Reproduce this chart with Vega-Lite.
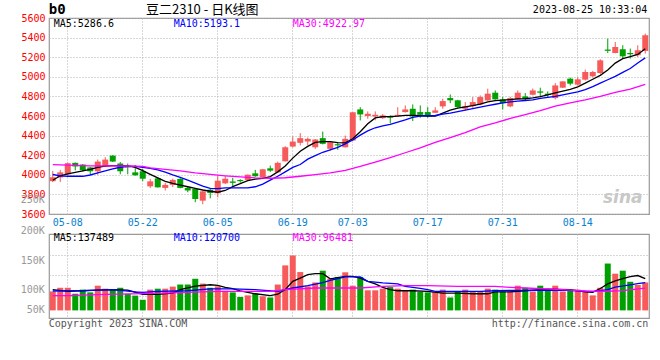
{
  "$schema": "https://vega.github.io/schema/vega-lite/v6.json",
  "autosize": {"type": "pad"},
  "padding": {"left": 20, "top": 2, "right": 0, "bottom": 0},
  "background": "white",
  "bounds": "flush",
  "spacing": 20,
  "config": {
    "view": {"stroke": "#999999", "strokeWidth": 1.2},
    "axis": {"domain": false, "ticks": false, "gridColor": "#b0b0b0", "gridDash": [1, 2], "gridWidth": 1, "labelFont": "DejaVu Sans Mono", "labelFontSize": 10, "labelOverlap": false}
  },
  "datasets": {
    "k": [
      {"d":"05-04","o":3935,"h":4040,"l":3925,"c":3975,"v":82000},
      {"d":"05-05","o":3973,"h":4050,"l":3925,"c":4025,"v":98000},
      {"d":"05-08","o":4005,"h":4125,"l":4000,"c":4118,"v":98000},
      {"d":"05-09","o":4122,"h":4125,"l":4045,"c":4085,"v":72000},
      {"d":"05-10","o":4105,"h":4110,"l":4035,"c":4048,"v":90000},
      {"d":"05-11","o":4075,"h":4080,"l":4000,"c":4036,"v":78000},
      {"d":"05-12","o":4036,"h":4155,"l":4000,"c":4135,"v":107000},
      {"d":"05-15","o":4086,"h":4180,"l":4080,"c":4155,"v":94000},
      {"d":"05-16","o":4196,"h":4200,"l":4130,"c":4135,"v":90000},
      {"d":"05-17","o":4115,"h":4130,"l":4005,"c":4036,"v":98000},
      {"d":"05-18","o":4092,"h":4115,"l":4005,"c":4075,"v":72000},
      {"d":"05-19","o":4025,"h":4100,"l":3990,"c":3995,"v":64000},
      {"d":"05-22","o":4036,"h":4060,"l":3935,"c":3960,"v":46000},
      {"d":"05-23","o":3882,"h":3958,"l":3866,"c":3933,"v":90000},
      {"d":"05-24","o":3964,"h":3970,"l":3870,"c":3872,"v":94000},
      {"d":"05-25","o":3866,"h":3917,"l":3840,"c":3897,"v":94000},
      {"d":"05-26","o":3897,"h":3960,"l":3875,"c":3948,"v":103000},
      {"d":"05-29","o":3958,"h":3965,"l":3862,"c":3866,"v":112000},
      {"d":"05-30","o":3866,"h":3880,"l":3822,"c":3840,"v":112000},
      {"d":"05-31","o":3856,"h":3865,"l":3720,"c":3753,"v":137000},
      {"d":"06-01","o":3736,"h":3835,"l":3700,"c":3831,"v":116000},
      {"d":"06-02","o":3848,"h":3856,"l":3760,"c":3815,"v":98000},
      {"d":"06-05","o":3811,"h":3990,"l":3770,"c":3940,"v":104000},
      {"d":"06-06","o":3913,"h":3988,"l":3905,"c":3960,"v":85000},
      {"d":"06-07","o":3932,"h":3970,"l":3885,"c":3918,"v":78000},
      {"d":"06-08","o":3947,"h":3955,"l":3920,"c":3935,"v":58000},
      {"d":"06-09","o":3948,"h":4003,"l":3945,"c":4001,"v":65000},
      {"d":"06-12","o":4015,"h":4050,"l":3980,"c":3985,"v":72000},
      {"d":"06-13","o":3974,"h":4060,"l":3970,"c":4056,"v":61000},
      {"d":"06-14","o":4066,"h":4094,"l":4030,"c":4042,"v":56000},
      {"d":"06-15","o":4025,"h":4135,"l":4020,"c":4122,"v":112000},
      {"d":"06-16","o":4138,"h":4292,"l":4135,"c":4281,"v":195000},
      {"d":"06-19","o":4288,"h":4391,"l":4280,"c":4339,"v":238000},
      {"d":"06-20","o":4326,"h":4425,"l":4300,"c":4374,"v":166000},
      {"d":"06-21","o":4340,"h":4380,"l":4300,"c":4367,"v":104000},
      {"d":"06-26","o":4281,"h":4365,"l":4265,"c":4360,"v":121000},
      {"d":"06-27","o":4374,"h":4441,"l":4310,"c":4316,"v":172000},
      {"d":"06-28","o":4265,"h":4340,"l":4247,"c":4333,"v":137000},
      {"d":"06-29","o":4312,"h":4333,"l":4255,"c":4300,"v":145000},
      {"d":"06-30","o":4281,"h":4400,"l":4278,"c":4367,"v":165000},
      {"d":"07-03","o":4350,"h":4640,"l":4345,"c":4638,"v":107000},
      {"d":"07-04","o":4667,"h":4690,"l":4555,"c":4616,"v":145000},
      {"d":"07-05","o":4600,"h":4647,"l":4572,"c":4623,"v":87000},
      {"d":"07-06","o":4595,"h":4647,"l":4556,"c":4612,"v":87000},
      {"d":"07-07","o":4578,"h":4620,"l":4570,"c":4606,"v":94000},
      {"d":"07-10","o":4596,"h":4606,"l":4525,"c":4583,"v":101000},
      {"d":"07-11","o":4598,"h":4690,"l":4595,"c":4612,"v":94000},
      {"d":"07-12","o":4640,"h":4708,"l":4635,"c":4667,"v":87000},
      {"d":"07-13","o":4674,"h":4718,"l":4548,"c":4595,"v":90000},
      {"d":"07-14","o":4640,"h":4708,"l":4582,"c":4612,"v":80000},
      {"d":"07-17","o":4640,"h":4690,"l":4582,"c":4606,"v":78000},
      {"d":"07-18","o":4633,"h":4690,"l":4630,"c":4657,"v":80000},
      {"d":"07-19","o":4698,"h":4776,"l":4674,"c":4752,"v":90000},
      {"d":"07-20","o":4783,"h":4820,"l":4731,"c":4760,"v":56000},
      {"d":"07-21","o":4760,"h":4765,"l":4685,"c":4691,"v":82000},
      {"d":"07-24","o":4674,"h":4742,"l":4657,"c":4698,"v":90000},
      {"d":"07-25","o":4701,"h":4793,"l":4684,"c":4742,"v":82000},
      {"d":"07-26","o":4718,"h":4810,"l":4710,"c":4793,"v":82000},
      {"d":"07-27","o":4759,"h":4879,"l":4755,"c":4828,"v":94000},
      {"d":"07-28","o":4838,"h":4861,"l":4765,"c":4770,"v":90000},
      {"d":"07-31","o":4769,"h":4793,"l":4667,"c":4731,"v":82000},
      {"d":"08-01","o":4698,"h":4795,"l":4690,"c":4783,"v":82000},
      {"d":"08-02","o":4769,"h":4861,"l":4765,"c":4838,"v":107000},
      {"d":"08-03","o":4800,"h":4834,"l":4760,"c":4776,"v":98000},
      {"d":"08-04","o":4817,"h":4880,"l":4810,"c":4861,"v":82000},
      {"d":"08-07","o":4851,"h":4889,"l":4803,"c":4838,"v":107000},
      {"d":"08-08","o":4828,"h":4851,"l":4793,"c":4814,"v":90000},
      {"d":"08-09","o":4783,"h":4936,"l":4769,"c":4912,"v":107000},
      {"d":"08-10","o":4889,"h":4955,"l":4885,"c":4953,"v":82000},
      {"d":"08-11","o":4981,"h":4991,"l":4912,"c":4930,"v":90000},
      {"d":"08-14","o":4920,"h":4995,"l":4912,"c":4974,"v":90000},
      {"d":"08-15","o":4971,"h":5073,"l":4963,"c":5049,"v":82000},
      {"d":"08-16","o":5005,"h":5060,"l":4995,"c":5049,"v":65000},
      {"d":"08-17","o":5039,"h":5180,"l":5030,"c":5168,"v":98000},
      {"d":"08-18","o":5278,"h":5390,"l":5243,"c":5265,"v":203000},
      {"d":"08-21","o":5243,"h":5355,"l":5240,"c":5304,"v":159000},
      {"d":"08-22","o":5281,"h":5322,"l":5186,"c":5209,"v":172000},
      {"d":"08-23","o":5243,"h":5288,"l":5186,"c":5230,"v":124000},
      {"d":"08-24","o":5220,"h":5322,"l":5202,"c":5271,"v":110000},
      {"d":"08-25","o":5264,"h":5441,"l":5237,"c":5424,"v":121000}
    ],
    "ma": [
      {"d":"05-04","s":"MA5","p":3945},{"d":"05-05","s":"MA5","p":3990},{"d":"05-08","s":"MA5","p":4010},{"d":"05-09","s":"MA5","p":4025},{"d":"05-10","s":"MA5","p":4040},{"d":"05-11","s":"MA5","p":4055},{"d":"05-12","s":"MA5","p":4075},{"d":"05-15","s":"MA5","p":4088},{"d":"05-16","s":"MA5","p":4094},{"d":"05-17","s":"MA5","p":4094},{"d":"05-18","s":"MA5","p":4090},{"d":"05-19","s":"MA5","p":4075},{"d":"05-22","s":"MA5","p":4042},{"d":"05-23","s":"MA5","p":4005},{"d":"05-24","s":"MA5","p":3968},{"d":"05-25","s":"MA5","p":3933},{"d":"05-26","s":"MA5","p":3912},{"d":"05-29","s":"MA5","p":3895},{"d":"05-30","s":"MA5","p":3878},{"d":"05-31","s":"MA5","p":3862},{"d":"06-01","s":"MA5","p":3845},{"d":"06-02","s":"MA5","p":3832},{"d":"06-05","s":"MA5","p":3822},{"d":"06-06","s":"MA5","p":3840},{"d":"06-07","s":"MA5","p":3879},{"d":"06-08","s":"MA5","p":3910},{"d":"06-09","s":"MA5","p":3940},{"d":"06-12","s":"MA5","p":3955},{"d":"06-13","s":"MA5","p":3964},{"d":"06-14","s":"MA5","p":3982},{"d":"06-15","s":"MA5","p":4030},{"d":"06-16","s":"MA5","p":4090},{"d":"06-19","s":"MA5","p":4170},{"d":"06-20","s":"MA5","p":4240},{"d":"06-21","s":"MA5","p":4290},{"d":"06-26","s":"MA5","p":4330},{"d":"06-27","s":"MA5","p":4339},{"d":"06-28","s":"MA5","p":4339},{"d":"06-29","s":"MA5","p":4328},{"d":"06-30","s":"MA5","p":4326},{"d":"07-03","s":"MA5","p":4367},{"d":"07-04","s":"MA5","p":4440},{"d":"07-05","s":"MA5","p":4520},{"d":"07-06","s":"MA5","p":4580},{"d":"07-07","s":"MA5","p":4594},{"d":"07-10","s":"MA5","p":4595},{"d":"07-11","s":"MA5","p":4598},{"d":"07-12","s":"MA5","p":4606},{"d":"07-13","s":"MA5","p":4606},{"d":"07-14","s":"MA5","p":4603},{"d":"07-17","s":"MA5","p":4600},{"d":"07-18","s":"MA5","p":4600},{"d":"07-19","s":"MA5","p":4630},{"d":"07-20","s":"MA5","p":4660},{"d":"07-21","s":"MA5","p":4680},{"d":"07-24","s":"MA5","p":4694},{"d":"07-25","s":"MA5","p":4705},{"d":"07-26","s":"MA5","p":4720},{"d":"07-27","s":"MA5","p":4745},{"d":"07-28","s":"MA5","p":4757},{"d":"07-31","s":"MA5","p":4762},{"d":"08-01","s":"MA5","p":4768},{"d":"08-02","s":"MA5","p":4775},{"d":"08-03","s":"MA5","p":4776},{"d":"08-04","s":"MA5","p":4785},{"d":"08-07","s":"MA5","p":4797},{"d":"08-08","s":"MA5","p":4815},{"d":"08-09","s":"MA5","p":4835},{"d":"08-10","s":"MA5","p":4855},{"d":"08-11","s":"MA5","p":4872},{"d":"08-14","s":"MA5","p":4898},{"d":"08-15","s":"MA5","p":4935},{"d":"08-16","s":"MA5","p":4975},{"d":"08-17","s":"MA5","p":5015},{"d":"08-18","s":"MA5","p":5070},{"d":"08-21","s":"MA5","p":5140},{"d":"08-22","s":"MA5","p":5185},{"d":"08-23","s":"MA5","p":5205},{"d":"08-24","s":"MA5","p":5228},{"d":"08-25","s":"MA5","p":5287},
      {"d":"05-04","s":"MA10","p":4003},{"d":"05-05","s":"MA10","p":3990},{"d":"05-08","s":"MA10","p":3985},{"d":"05-09","s":"MA10","p":3985},{"d":"05-10","s":"MA10","p":3985},{"d":"05-11","s":"MA10","p":3998},{"d":"05-12","s":"MA10","p":4020},{"d":"05-15","s":"MA10","p":4040},{"d":"05-16","s":"MA10","p":4060},{"d":"05-17","s":"MA10","p":4077},{"d":"05-18","s":"MA10","p":4085},{"d":"05-19","s":"MA10","p":4085},{"d":"05-22","s":"MA10","p":4077},{"d":"05-23","s":"MA10","p":4065},{"d":"05-24","s":"MA10","p":4050},{"d":"05-25","s":"MA10","p":4028},{"d":"05-26","s":"MA10","p":4000},{"d":"05-29","s":"MA10","p":3974},{"d":"05-30","s":"MA10","p":3945},{"d":"05-31","s":"MA10","p":3915},{"d":"06-01","s":"MA10","p":3885},{"d":"06-02","s":"MA10","p":3862},{"d":"06-05","s":"MA10","p":3858},{"d":"06-06","s":"MA10","p":3866},{"d":"06-07","s":"MA10","p":3866},{"d":"06-08","s":"MA10","p":3866},{"d":"06-09","s":"MA10","p":3866},{"d":"06-12","s":"MA10","p":3878},{"d":"06-13","s":"MA10","p":3905},{"d":"06-14","s":"MA10","p":3945},{"d":"06-15","s":"MA10","p":3985},{"d":"06-16","s":"MA10","p":4030},{"d":"06-19","s":"MA10","p":4075},{"d":"06-20","s":"MA10","p":4105},{"d":"06-21","s":"MA10","p":4160},{"d":"06-26","s":"MA10","p":4195},{"d":"06-27","s":"MA10","p":4230},{"d":"06-28","s":"MA10","p":4255},{"d":"06-29","s":"MA10","p":4280},{"d":"06-30","s":"MA10","p":4315},{"d":"07-03","s":"MA10","p":4355},{"d":"07-04","s":"MA10","p":4405},{"d":"07-05","s":"MA10","p":4448},{"d":"07-06","s":"MA10","p":4480},{"d":"07-07","s":"MA10","p":4500},{"d":"07-10","s":"MA10","p":4515},{"d":"07-11","s":"MA10","p":4537},{"d":"07-12","s":"MA10","p":4560},{"d":"07-13","s":"MA10","p":4585},{"d":"07-14","s":"MA10","p":4598},{"d":"07-17","s":"MA10","p":4602},{"d":"07-18","s":"MA10","p":4605},{"d":"07-19","s":"MA10","p":4620},{"d":"07-20","s":"MA10","p":4630},{"d":"07-21","s":"MA10","p":4645},{"d":"07-24","s":"MA10","p":4660},{"d":"07-25","s":"MA10","p":4675},{"d":"07-26","s":"MA10","p":4690},{"d":"07-27","s":"MA10","p":4705},{"d":"07-28","s":"MA10","p":4720},{"d":"07-31","s":"MA10","p":4735},{"d":"08-01","s":"MA10","p":4745},{"d":"08-02","s":"MA10","p":4752},{"d":"08-03","s":"MA10","p":4758},{"d":"08-04","s":"MA10","p":4765},{"d":"08-07","s":"MA10","p":4780},{"d":"08-08","s":"MA10","p":4790},{"d":"08-09","s":"MA10","p":4800},{"d":"08-10","s":"MA10","p":4815},{"d":"08-11","s":"MA10","p":4830},{"d":"08-14","s":"MA10","p":4845},{"d":"08-15","s":"MA10","p":4870},{"d":"08-16","s":"MA10","p":4900},{"d":"08-17","s":"MA10","p":4935},{"d":"08-18","s":"MA10","p":4970},{"d":"08-21","s":"MA10","p":5005},{"d":"08-22","s":"MA10","p":5045},{"d":"08-23","s":"MA10","p":5085},{"d":"08-24","s":"MA10","p":5140},{"d":"08-25","s":"MA10","p":5193},
      {"d":"05-04","s":"MA30","p":4103},{"d":"05-11","s":"MA30","p":4092},{"d":"05-18","s":"MA30","p":4090},{"d":"05-22","s":"MA30","p":4085},{"d":"05-23","s":"MA30","p":4070},{"d":"05-25","s":"MA30","p":4055},{"d":"05-29","s":"MA30","p":4040},{"d":"05-31","s":"MA30","p":4020},{"d":"06-02","s":"MA30","p":4005},{"d":"06-06","s":"MA30","p":3990},{"d":"06-08","s":"MA30","p":3978},{"d":"06-12","s":"MA30","p":3968},{"d":"06-14","s":"MA30","p":3965},{"d":"06-16","s":"MA30","p":3970},{"d":"06-20","s":"MA30","p":3985},{"d":"06-26","s":"MA30","p":4002},{"d":"06-28","s":"MA30","p":4020},{"d":"06-30","s":"MA30","p":4045},{"d":"07-04","s":"MA30","p":4085},{"d":"07-06","s":"MA30","p":4130},{"d":"07-10","s":"MA30","p":4175},{"d":"07-12","s":"MA30","p":4225},{"d":"07-14","s":"MA30","p":4275},{"d":"07-18","s":"MA30","p":4330},{"d":"07-20","s":"MA30","p":4380},{"d":"07-24","s":"MA30","p":4430},{"d":"07-26","s":"MA30","p":4490},{"d":"07-28","s":"MA30","p":4530},{"d":"08-01","s":"MA30","p":4575},{"d":"08-03","s":"MA30","p":4615},{"d":"08-07","s":"MA30","p":4655},{"d":"08-09","s":"MA30","p":4700},{"d":"08-11","s":"MA30","p":4735},{"d":"08-15","s":"MA30","p":4765},{"d":"08-17","s":"MA30","p":4800},{"d":"08-21","s":"MA30","p":4840},{"d":"08-23","s":"MA30","p":4875},{"d":"08-25","s":"MA30","p":4923}
    ],
    "vma": [
      {"d":"05-04","s":"MA5","p":90000},{"d":"05-08","s":"MA5","p":82000},{"d":"05-10","s":"MA5","p":85000},{"d":"05-12","s":"MA5","p":88000},{"d":"05-16","s":"MA5","p":90000},{"d":"05-18","s":"MA5","p":88000},{"d":"05-22","s":"MA5","p":70000},{"d":"05-24","s":"MA5","p":69000},{"d":"05-26","s":"MA5","p":75000},{"d":"05-29","s":"MA5","p":90000},{"d":"05-31","s":"MA5","p":105000},{"d":"06-02","s":"MA5","p":111000},{"d":"06-05","s":"MA5","p":108000},{"d":"06-06","s":"MA5","p":100000},{"d":"06-07","s":"MA5","p":94000},{"d":"06-08","s":"MA5","p":85000},{"d":"06-12","s":"MA5","p":72000},{"d":"06-14","s":"MA5","p":64000},{"d":"06-15","s":"MA5","p":70000},{"d":"06-16","s":"MA5","p":90000},{"d":"06-19","s":"MA5","p":126000},{"d":"06-20","s":"MA5","p":140000},{"d":"06-21","s":"MA5","p":155000},{"d":"06-26","s":"MA5","p":159000},{"d":"06-27","s":"MA5","p":159000},{"d":"06-28","s":"MA5","p":137000},{"d":"06-29","s":"MA5","p":142000},{"d":"06-30","s":"MA5","p":147000},{"d":"07-03","s":"MA5","p":147000},{"d":"07-04","s":"MA5","p":140000},{"d":"07-05","s":"MA5","p":126000},{"d":"07-06","s":"MA5","p":115000},{"d":"07-07","s":"MA5","p":100000},{"d":"07-10","s":"MA5","p":90000},{"d":"07-11","s":"MA5","p":85000},{"d":"07-13","s":"MA5","p":85000},{"d":"07-17","s":"MA5","p":82000},{"d":"07-19","s":"MA5","p":75000},{"d":"07-21","s":"MA5","p":75000},{"d":"07-25","s":"MA5","p":72000},{"d":"07-27","s":"MA5","p":72000},{"d":"07-28","s":"MA5","p":80000},{"d":"08-01","s":"MA5","p":80000},{"d":"08-03","s":"MA5","p":85000},{"d":"08-08","s":"MA5","p":92000},{"d":"08-11","s":"MA5","p":90000},{"d":"08-15","s":"MA5","p":80000},{"d":"08-16","s":"MA5","p":78000},{"d":"08-17","s":"MA5","p":95000},{"d":"08-18","s":"MA5","p":115000},{"d":"08-21","s":"MA5","p":128000},{"d":"08-22","s":"MA5","p":138000},{"d":"08-23","s":"MA5","p":146000},{"d":"08-24","s":"MA5","p":151000},{"d":"08-25","s":"MA5","p":137489},
      {"d":"05-04","s":"MA10","p":84000},{"d":"05-10","s":"MA10","p":86000},{"d":"05-16","s":"MA10","p":90000},{"d":"05-19","s":"MA10","p":80000},{"d":"05-22","s":"MA10","p":78000},{"d":"05-24","s":"MA10","p":82000},{"d":"05-30","s":"MA10","p":85000},{"d":"06-02","s":"MA10","p":93000},{"d":"06-07","s":"MA10","p":93000},{"d":"06-12","s":"MA10","p":90000},{"d":"06-15","s":"MA10","p":82000},{"d":"06-19","s":"MA10","p":97000},{"d":"06-21","s":"MA10","p":107000},{"d":"06-27","s":"MA10","p":120000},{"d":"06-28","s":"MA10","p":130000},{"d":"06-30","s":"MA10","p":145000},{"d":"07-04","s":"MA10","p":145000},{"d":"07-05","s":"MA10","p":126000},{"d":"07-07","s":"MA10","p":119000},{"d":"07-11","s":"MA10","p":115000},{"d":"07-12","s":"MA10","p":104000},{"d":"07-14","s":"MA10","p":95000},{"d":"07-17","s":"MA10","p":90000},{"d":"07-18","s":"MA10","p":82000},{"d":"07-20","s":"MA10","p":82000},{"d":"07-26","s":"MA10","p":82000},{"d":"07-28","s":"MA10","p":85000},{"d":"08-02","s":"MA10","p":87000},{"d":"08-10","s":"MA10","p":88000},{"d":"08-16","s":"MA10","p":81000},{"d":"08-18","s":"MA10","p":90000},{"d":"08-21","s":"MA10","p":101000},{"d":"08-23","s":"MA10","p":111000},{"d":"08-24","s":"MA10","p":116000},{"d":"08-25","s":"MA10","p":120700},
      {"d":"05-04","s":"MA30","p":64000},{"d":"05-08","s":"MA30","p":64000},{"d":"05-12","s":"MA30","p":68000},{"d":"05-25","s":"MA30","p":75000},{"d":"06-05","s":"MA30","p":82000},{"d":"06-14","s":"MA30","p":82000},{"d":"06-16","s":"MA30","p":90000},{"d":"06-26","s":"MA30","p":97000},{"d":"07-04","s":"MA30","p":97000},{"d":"07-07","s":"MA30","p":104000},{"d":"07-12","s":"MA30","p":107000},{"d":"07-17","s":"MA30","p":107000},{"d":"07-21","s":"MA30","p":104000},{"d":"07-28","s":"MA30","p":104000},{"d":"08-01","s":"MA30","p":100000},{"d":"08-03","s":"MA30","p":97000},{"d":"08-10","s":"MA30","p":90000},{"d":"08-15","s":"MA30","p":84000},{"d":"08-18","s":"MA30","p":83000},{"d":"08-22","s":"MA30","p":86000},{"d":"08-25","s":"MA30","p":96481}
    ],
    "vlab": [
      {"t":"250K","v":478000},{"t":"200K","v":344000},{"t":"150K","v":214000},{"t":"100K","v":88000},{"t":"50K","v":2000}
    ]
  },
  "vconcat": [
    {
      "width": 600,
      "height": 196,
      "encoding": {
        "x": {"field": "d", "type": "ordinal", "title": null,
          "scale": {"domain": ["05-04","05-05","05-08","05-09","05-10","05-11","05-12","05-15","05-16","05-17","05-18","05-19","05-22","05-23","05-24","05-25","05-26","05-29","05-30","05-31","06-01","06-02","06-05","06-06","06-07","06-08","06-09","06-12","06-13","06-14","06-15","06-16","06-19","06-20","06-21","06-26","06-27","06-28","06-29","06-30","07-03","07-04","07-05","07-06","07-07","07-10","07-11","07-12","07-13","07-14","07-17","07-18","07-19","07-20","07-21","07-24","07-25","07-26","07-27","07-28","07-31","08-01","08-02","08-03","08-04","08-07","08-08","08-09","08-10","08-11","08-14","08-15","08-16","08-17","08-18","08-21","08-22","08-23","08-24","08-25"], "paddingInner": 0.2, "paddingOuter": 0.1},
          "axis": {"values": ["05-08","05-22","06-05","06-19","07-03","07-17","07-31","08-14"], "labelAngle": 0, "labelColor": "#0a7fd0", "labelPadding": 3, "grid": true, "bandPosition": 0.5}
        }
      },
      "layer": [
        {
          "data": {"name": "k"},
          "mark": {"type": "rule", "strokeWidth": 1},
          "encoding": {
            "y": {"field": "l", "type": "quantitative", "title": null, "scale": {"domain": [3600, 5600], "nice": false, "zero": false},
              "axis": {"values": [3600,3800,4000,4200,4400,4600,4800,5000,5200,5400,5600], "tickCount": 20, "labelColor": "#ff0000", "labelPadding": 4, "grid": true, "format": "d"}},
            "y2": {"field": "h"},
            "color": {"condition": {"test": "datum.c >= datum.o", "value": "#f65a5a"}, "value": "#00a000"}
          }
        },
        {
          "data": {"name": "k"},
          "mark": {"type": "bar"},
          "encoding": {
            "y": {"field": "o", "type": "quantitative", "scale": {"domain": [3600, 5600], "nice": false, "zero": false}},
            "y2": {"field": "c"},
            "color": {"condition": {"test": "datum.c >= datum.o", "value": "#f65a5a"}, "value": "#00a000"}
          }
        },
        {
          "data": {"name": "ma"},
          "mark": {"type": "line", "strokeWidth": 1.3, "interpolate": "linear"},
          "encoding": {
            "y": {"field": "p", "type": "quantitative", "scale": {"domain": [3600, 5600], "nice": false, "zero": false}},
            "color": {"field": "s", "type": "nominal", "scale": {"domain": ["MA5","MA10","MA30"], "range": ["#000000","#0000ff","#ff00ff"]}, "legend": null}
          }
        },
        {
          "data": {"values": [{}]},
          "mark": {"type": "text", "text": "b0", "align": "left", "baseline": "middle", "dx": -4, "dy": -8, "font": "DejaVu Sans Mono", "fontWeight": "bold", "fontSize": 14, "color": "#000000"},
          "encoding": {"x": {"datum": "05-04"}, "y": {"datum": 5600}}
        },
        {
          "data": {"values": [{}]},
          "mark": {"type": "text", "text": "豆二2310 - 日K线图", "align": "center", "baseline": "middle", "dx": 7, "dy": -8, "font": "Noto Sans CJK SC", "fontSize": 13, "color": "#000000"},
          "encoding": {"x": {"datum": "05-31"}, "y": {"datum": 5600}}
        },
        {
          "data": {"values": [{}]},
          "mark": {"type": "text", "text": "2023-08-25 10:33:04", "align": "right", "baseline": "middle", "dx": 2, "dy": -8, "font": "DejaVu Sans Mono", "fontSize": 10, "color": "#000000"},
          "encoding": {"x": {"datum": "08-25"}, "y": {"datum": 5600}}
        },
        {
          "data": {"values": [{}]},
          "mark": {"type": "text", "text": "MA5:5286.6", "align": "left", "baseline": "middle", "dx": 1, "dy": 6, "font": "DejaVu Sans Mono", "fontSize": 10, "color": "#000000"},
          "encoding": {"x": {"datum": "05-04"}, "y": {"datum": 5600}}
        },
        {
          "data": {"values": [{}]},
          "mark": {"type": "text", "text": "MA10:5193.1", "align": "left", "baseline": "middle", "dx": 1, "dy": 6, "font": "DejaVu Sans Mono", "fontSize": 10, "color": "#0000ff"},
          "encoding": {"x": {"datum": "05-26"}, "y": {"datum": 5600}}
        },
        {
          "data": {"values": [{}]},
          "mark": {"type": "text", "text": "MA30:4922.97", "align": "left", "baseline": "middle", "dx": 0, "dy": 6, "font": "DejaVu Sans Mono", "fontSize": 10, "color": "#ff00ff"},
          "encoding": {"x": {"datum": "06-19"}, "y": {"datum": 5600}}
        },
        {
          "data": {"values": [{}]},
          "mark": {"type": "text", "text": "sina", "align": "center", "baseline": "middle", "font": "DejaVu Sans", "fontStyle": "italic", "fontWeight": "bold", "fontSize": 17, "color": "#c8c8c8"},
          "encoding": {"x": {"datum": "08-22"}, "y": {"datum": 3760}}
        }
      ]
    },
    {
      "width": 600,
      "height": 84,
      "encoding": {
        "x": {"field": "d", "type": "ordinal", "title": null,
          "scale": {"domain": ["05-04","05-05","05-08","05-09","05-10","05-11","05-12","05-15","05-16","05-17","05-18","05-19","05-22","05-23","05-24","05-25","05-26","05-29","05-30","05-31","06-01","06-02","06-05","06-06","06-07","06-08","06-09","06-12","06-13","06-14","06-15","06-16","06-19","06-20","06-21","06-26","06-27","06-28","06-29","06-30","07-03","07-04","07-05","07-06","07-07","07-10","07-11","07-12","07-13","07-14","07-17","07-18","07-19","07-20","07-21","07-24","07-25","07-26","07-27","07-28","07-31","08-01","08-02","08-03","08-04","08-07","08-08","08-09","08-10","08-11","08-14","08-15","08-16","08-17","08-18","08-21","08-22","08-23","08-24","08-25"], "paddingInner": 0.2, "paddingOuter": 0.1},
          "axis": {"values": ["05-08","05-22","06-05","06-19","07-03","07-17","07-31","08-14"], "labels": false, "grid": true, "bandPosition": 0.5}
        }
      },
      "layer": [
        {
          "data": {"name": "k"},
          "mark": {"type": "bar"},
          "encoding": {
            "y": {"field": "v", "type": "quantitative", "title": null, "scale": {"domain": [-33000, 331000], "nice": false, "zero": false},
              "axis": {"values": [64000, 152000, 240000], "tickCount": 10, "labels": false, "grid": true}},
            "y2": {"datum": 0},
            "color": {"condition": {"test": "datum.c >= datum.o", "value": "#f65a5a"}, "value": "#00a000"}
          }
        },
        {
          "data": {"name": "vma"},
          "mark": {"type": "line", "strokeWidth": 1.3},
          "encoding": {
            "y": {"field": "p", "type": "quantitative", "scale": {"domain": [-33000, 331000], "nice": false, "zero": false}},
            "color": {"field": "s", "type": "nominal", "scale": {"domain": ["MA5","MA10","MA30"], "range": ["#000000","#0000ff","#ff00ff"]}, "legend": null}
          }
        },
        {
          "data": {"name": "vlab"},
          "mark": {"type": "text", "align": "right", "baseline": "middle", "dx": -8, "font": "DejaVu Sans Mono", "fontSize": 10, "color": "#999999"},
          "encoding": {
            "x": {"datum": "05-04"},
            "y": {"field": "v", "type": "quantitative"},
            "text": {"field": "t"}
          }
        },
        {
          "data": {"values": [{}]},
          "mark": {"type": "text", "text": "MA5:137489", "align": "left", "baseline": "middle", "dx": 1, "dy": 4, "font": "DejaVu Sans Mono", "fontSize": 10, "color": "#000000"},
          "encoding": {"x": {"datum": "05-04"}, "y": {"datum": 331000}}
        },
        {
          "data": {"values": [{}]},
          "mark": {"type": "text", "text": "MA10:120700", "align": "left", "baseline": "middle", "dx": 1, "dy": 4, "font": "DejaVu Sans Mono", "fontSize": 10, "color": "#0000ff"},
          "encoding": {"x": {"datum": "05-26"}, "y": {"datum": 331000}}
        },
        {
          "data": {"values": [{}]},
          "mark": {"type": "text", "text": "MA30:96481", "align": "left", "baseline": "middle", "dx": 0, "dy": 4, "font": "DejaVu Sans Mono", "fontSize": 10, "color": "#ff00ff"},
          "encoding": {"x": {"datum": "06-19"}, "y": {"datum": 331000}}
        },
        {
          "data": {"values": [{}]},
          "mark": {"type": "text", "text": "Copyright 2023 SINA.COM", "align": "left", "baseline": "middle", "dx": -4, "dy": 6, "font": "DejaVu Sans Mono", "fontSize": 10, "color": "#555555"},
          "encoding": {"x": {"datum": "05-04"}, "y": {"datum": -33000}}
        },
        {
          "data": {"values": [{}]},
          "mark": {"type": "text", "text": "http://finance.sina.com.cn", "align": "right", "baseline": "middle", "dx": 3, "dy": 6, "font": "DejaVu Sans Mono", "fontSize": 10, "color": "#555555"},
          "encoding": {"x": {"datum": "08-25"}, "y": {"datum": -33000}}
        }
      ]
    }
  ]
}
